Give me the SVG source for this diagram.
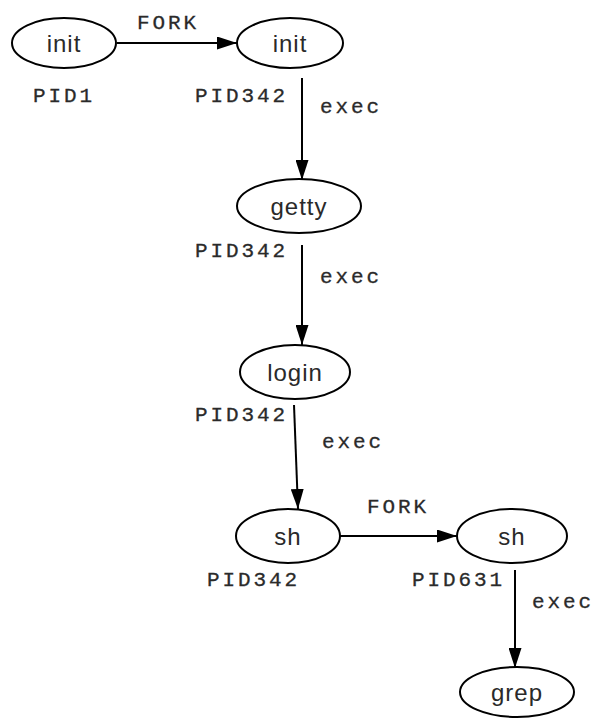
<svg xmlns="http://www.w3.org/2000/svg" width="596" height="718" viewBox="0 0 596 718">
<style>
.node ellipse{fill:#fff;stroke:#000;stroke-width:2}
.nt{font-family:"Liberation Sans",Arial,sans-serif;font-size:24px;letter-spacing:1px;fill:#2a2a2a;text-anchor:middle;dominant-baseline:central}
.lbl{font-family:"Liberation Mono","Courier New",monospace;font-size:21px;letter-spacing:2.9px;fill:#2a2a2a;stroke:#2a2a2a;stroke-width:0.3}
.edge{stroke:#000;stroke-width:2;fill:none}
</style>
<defs>
<marker id="ah" markerWidth="20" markerHeight="13" refX="20" refY="6.5" orient="auto" markerUnits="userSpaceOnUse">
<path d="M0,0 L20,6.5 L0,13 Z" fill="#000"/>
</marker>
</defs>
<g id="connectors">
<line class="edge" x1="117" y1="43" x2="237" y2="43" marker-end="url(#ah)"/>
<line class="edge" x1="302" y1="78" x2="302" y2="180" marker-end="url(#ah)"/>
<line class="edge" x1="302" y1="245" x2="302" y2="345" marker-end="url(#ah)"/>
<line class="edge" x1="294" y1="405" x2="298" y2="509" marker-end="url(#ah)"/>
<line class="edge" x1="340" y1="536" x2="457" y2="536" marker-end="url(#ah)"/>
<line class="edge" x1="515" y1="570" x2="515" y2="668" marker-end="url(#ah)"/>
<text class="lbl" x="137" y="29">FORK</text>
<text class="lbl" x="320" y="113">exec</text>
<text class="lbl" x="320" y="283">exec</text>
<text class="lbl" x="322" y="448">exec</text>
<text class="lbl" x="367" y="513">FORK</text>
<text class="lbl" x="532" y="608">exec</text>
</g>
<g id="n_init1" class="node"><ellipse cx="64" cy="43" rx="52" ry="25"/><text class="nt" x="64" y="43">init</text><text class="lbl" x="33" y="102">PID1</text></g>
<g id="n_init2" class="node"><ellipse cx="290" cy="43" rx="53" ry="25"/><text class="nt" x="290" y="43">init</text><text class="lbl" x="195" y="102">PID342</text></g>
<g id="n_getty" class="node"><ellipse cx="299" cy="206" rx="62" ry="27"/><text class="nt" x="299" y="206">getty</text><text class="lbl" x="195" y="257">PID342</text></g>
<g id="n_login" class="node"><ellipse cx="295" cy="372" rx="55" ry="27"/><text class="nt" x="295" y="372">login</text><text class="lbl" x="195" y="421">PID342</text></g>
<g id="n_sh1" class="node"><ellipse cx="288" cy="536" rx="52" ry="27"/><text class="nt" x="288" y="536">sh</text><text class="lbl" x="207" y="586">PID342</text></g>
<g id="n_sh2" class="node"><ellipse cx="512" cy="536" rx="55" ry="27"/><text class="nt" x="512" y="536">sh</text><text class="lbl" x="412" y="586">PID631</text></g>
<g id="n_grep" class="node"><ellipse cx="517" cy="692" rx="57" ry="25"/><text class="nt" x="517" y="692">grep</text></g>
</svg>
